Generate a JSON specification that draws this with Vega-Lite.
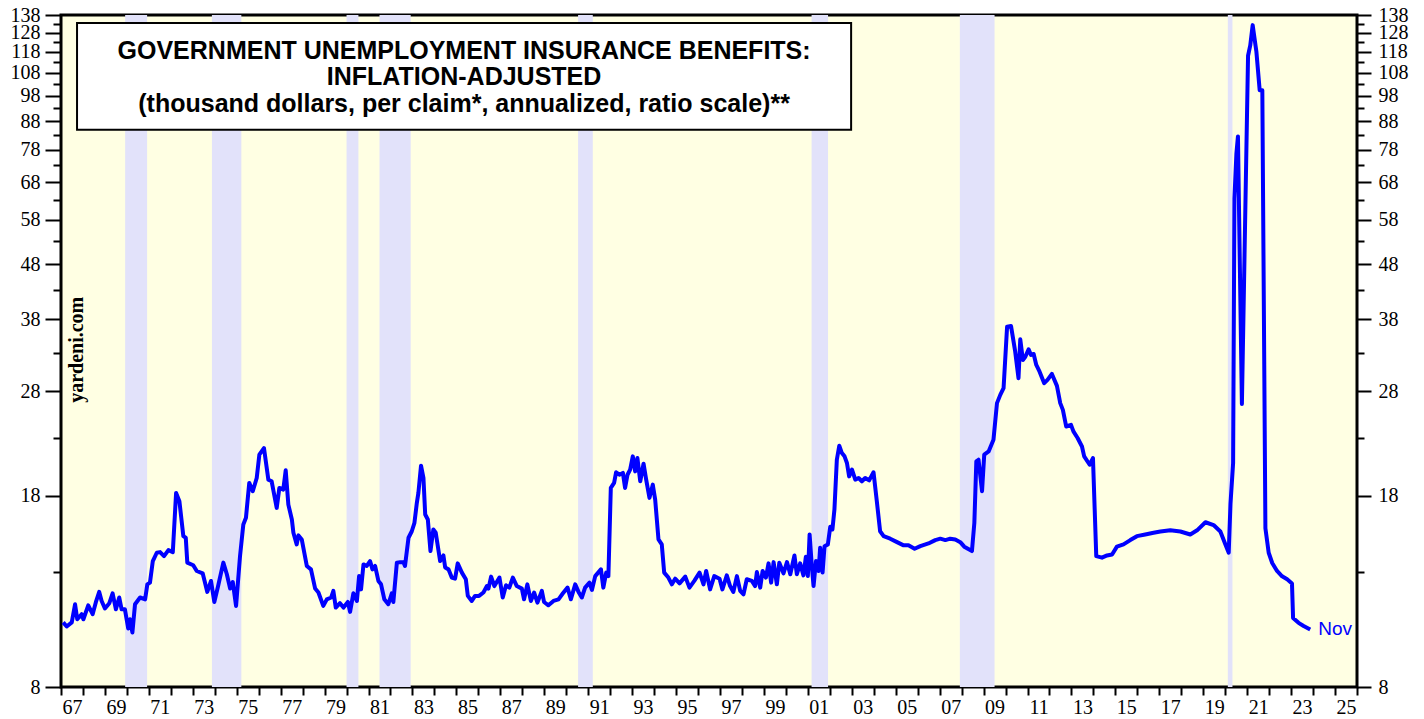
{
  "$schema": "https://vega.github.io/schema/vega-lite/v6.json",
  "width": 1296,
  "height": 672,
  "autosize": "none",
  "padding": {"left": 61, "top": 15, "right": 67, "bottom": 32},
  "background": "white",
  "config": {
    "view": {"fill": "#FFFFE3", "stroke": "black", "strokeWidth": 3},
    "axis": {"domain": false, "grid": false, "tickColor": "black", "tickWidth": 2, "labelFont": "Liberation Serif", "labelFontSize": 20, "labelColor": "black"}
  },
  "datasets": {
    "rec": [
      {"start": 1969.92, "end": 1970.92}, {"start": 1973.87, "end": 1975.21}, {"start": 1980.0, "end": 1980.54},
      {"start": 1981.5, "end": 1982.92}, {"start": 1990.54, "end": 1991.21}, {"start": 2001.17, "end": 2001.92},
      {"start": 2007.92, "end": 2009.5}, {"start": 2020.12, "end": 2020.33}
    ],
    "ui": [
      {"t":1967.10,"v":10.52},{"t":1967.26,"v":10.34},{"t":1967.49,"v":10.52},{"t":1967.64,"v":11.36},{"t":1967.74,"v":10.66},{"t":1967.94,"v":10.89},{"t":1968.02,"v":10.66},{"t":1968.24,"v":11.31},{"t":1968.44,"v":10.89},{"t":1968.59,"v":11.47},{"t":1968.74,"v":11.97},{"t":1968.85,"v":11.52},{"t":1969.00,"v":11.16},{"t":1969.20,"v":11.41},{"t":1969.35,"v":11.90},{"t":1969.50,"v":11.12},{"t":1969.65,"v":11.69},{"t":1969.76,"v":11.12},{"t":1969.91,"v":11.12},{"t":1970.06,"v":10.25},{"t":1970.14,"v":10.66},{"t":1970.25,"v":10.08},{"t":1970.37,"v":11.36},{"t":1970.60,"v":11.69},{"t":1970.83,"v":11.60},{"t":1970.93,"v":12.36},{"t":1971.05,"v":12.45},{"t":1971.18,"v":13.64},{"t":1971.36,"v":14.13},{"t":1971.51,"v":14.17},{"t":1971.69,"v":13.93},{"t":1971.89,"v":14.29},{"t":1972.09,"v":14.17},{"t":1972.24,"v":18.21},{"t":1972.39,"v":17.58},{"t":1972.57,"v":15.16},{"t":1972.68,"v":15.06},{"t":1972.75,"v":13.55},{"t":1973.02,"v":13.40},{"t":1973.18,"v":13.08},{"t":1973.45,"v":12.95},{"t":1973.66,"v":11.97},{"t":1973.83,"v":12.54},{"t":1973.98,"v":11.47},{"t":1974.16,"v":12.31},{"t":1974.39,"v":13.55},{"t":1974.55,"v":12.90},{"t":1974.70,"v":12.14},{"t":1974.82,"v":12.48},{"t":1974.97,"v":11.28},{"t":1975.15,"v":13.93},{"t":1975.30,"v":15.93},{"t":1975.42,"v":16.39},{"t":1975.57,"v":19.00},{"t":1975.73,"v":18.34},{"t":1975.91,"v":19.40},{"t":1976.03,"v":21.41},{"t":1976.24,"v":22.02},{"t":1976.44,"v":19.26},{"t":1976.59,"v":19.13},{"t":1976.82,"v":17.09},{"t":1976.94,"v":18.60},{"t":1977.12,"v":18.47},{"t":1977.23,"v":20.04},{"t":1977.35,"v":17.33},{"t":1977.51,"v":16.27},{"t":1977.58,"v":15.38},{"t":1977.73,"v":14.64},{"t":1977.81,"v":15.21},{"t":1977.96,"v":14.95},{"t":1978.19,"v":13.36},{"t":1978.38,"v":13.17},{"t":1978.57,"v":12.14},{"t":1978.72,"v":11.94},{"t":1978.94,"v":11.28},{"t":1979.10,"v":11.60},{"t":1979.30,"v":11.69},{"t":1979.40,"v":12.02},{"t":1979.51,"v":11.20},{"t":1979.70,"v":11.41},{"t":1979.86,"v":11.20},{"t":1980.06,"v":11.47},{"t":1980.16,"v":11.00},{"t":1980.31,"v":11.90},{"t":1980.47,"v":11.52},{"t":1980.57,"v":12.80},{"t":1980.66,"v":12.10},{"t":1980.77,"v":13.45},{"t":1980.92,"v":13.36},{"t":1981.07,"v":13.64},{"t":1981.18,"v":13.17},{"t":1981.30,"v":13.36},{"t":1981.45,"v":12.54},{"t":1981.57,"v":12.36},{"t":1981.72,"v":11.60},{"t":1981.90,"v":11.36},{"t":1982.06,"v":11.90},{"t":1982.13,"v":11.47},{"t":1982.29,"v":13.55},{"t":1982.44,"v":13.58},{"t":1982.59,"v":13.58},{"t":1982.66,"v":13.36},{"t":1982.82,"v":15.06},{"t":1982.97,"v":15.48},{"t":1983.09,"v":16.04},{"t":1983.20,"v":17.46},{"t":1983.27,"v":18.21},{"t":1983.39,"v":20.44},{"t":1983.50,"v":19.40},{"t":1983.58,"v":16.62},{"t":1983.70,"v":16.27},{"t":1983.82,"v":14.23},{"t":1983.95,"v":15.60},{"t":1984.06,"v":15.38},{"t":1984.26,"v":13.64},{"t":1984.41,"v":13.97},{"t":1984.49,"v":13.27},{"t":1984.64,"v":13.17},{"t":1984.79,"v":12.72},{"t":1984.94,"v":12.66},{"t":1985.06,"v":13.51},{"t":1985.25,"v":12.99},{"t":1985.43,"v":12.63},{"t":1985.52,"v":11.77},{"t":1985.70,"v":11.52},{"t":1985.85,"v":11.77},{"t":1986.03,"v":11.77},{"t":1986.23,"v":11.94},{"t":1986.39,"v":12.27},{"t":1986.46,"v":12.14},{"t":1986.58,"v":12.77},{"t":1986.73,"v":12.27},{"t":1986.96,"v":12.72},{"t":1987.11,"v":11.69},{"t":1987.26,"v":12.31},{"t":1987.41,"v":12.19},{"t":1987.57,"v":12.72},{"t":1987.75,"v":12.27},{"t":1987.98,"v":12.14},{"t":1988.08,"v":11.60},{"t":1988.23,"v":12.36},{"t":1988.39,"v":11.52},{"t":1988.54,"v":11.94},{"t":1988.69,"v":11.44},{"t":1988.89,"v":12.02},{"t":1988.99,"v":11.47},{"t":1989.19,"v":11.31},{"t":1989.42,"v":11.52},{"t":1989.65,"v":11.60},{"t":1989.85,"v":11.90},{"t":1990.06,"v":12.19},{"t":1990.21,"v":11.60},{"t":1990.41,"v":12.36},{"t":1990.56,"v":11.97},{"t":1990.71,"v":11.69},{"t":1990.86,"v":12.19},{"t":1991.06,"v":12.45},{"t":1991.17,"v":12.07},{"t":1991.32,"v":12.80},{"t":1991.58,"v":13.17},{"t":1991.69,"v":12.19},{"t":1991.82,"v":12.99},{"t":1991.92,"v":12.80},{"t":1992.03,"v":18.60},{"t":1992.18,"v":19.00},{"t":1992.27,"v":19.87},{"t":1992.42,"v":19.67},{"t":1992.58,"v":19.82},{"t":1992.68,"v":18.60},{"t":1992.79,"v":19.67},{"t":1992.91,"v":20.10},{"t":1993.03,"v":21.26},{"t":1993.14,"v":19.95},{"t":1993.24,"v":21.11},{"t":1993.37,"v":19.13},{"t":1993.52,"v":20.61},{"t":1993.64,"v":19.26},{"t":1993.79,"v":17.83},{"t":1993.94,"v":18.86},{"t":1994.05,"v":17.70},{"t":1994.20,"v":14.95},{"t":1994.35,"v":14.64},{"t":1994.46,"v":12.99},{"t":1994.65,"v":12.72},{"t":1994.81,"v":12.36},{"t":1994.96,"v":12.66},{"t":1995.16,"v":12.41},{"t":1995.42,"v":12.77},{"t":1995.61,"v":12.19},{"t":1995.83,"v":12.54},{"t":1996.07,"v":12.99},{"t":1996.25,"v":12.36},{"t":1996.37,"v":13.08},{"t":1996.55,"v":12.10},{"t":1996.74,"v":12.80},{"t":1996.98,"v":12.66},{"t":1997.11,"v":12.10},{"t":1997.31,"v":12.84},{"t":1997.46,"v":12.27},{"t":1997.61,"v":11.97},{"t":1997.77,"v":12.80},{"t":1997.92,"v":12.02},{"t":1998.07,"v":11.85},{"t":1998.22,"v":12.63},{"t":1998.45,"v":12.54},{"t":1998.60,"v":12.27},{"t":1998.68,"v":13.02},{"t":1998.83,"v":12.19},{"t":1998.94,"v":13.08},{"t":1999.09,"v":12.72},{"t":1999.21,"v":13.51},{"t":1999.33,"v":12.45},{"t":1999.44,"v":13.58},{"t":1999.59,"v":12.36},{"t":1999.70,"v":13.55},{"t":1999.89,"v":12.95},{"t":2000.05,"v":13.58},{"t":2000.20,"v":12.90},{"t":2000.39,"v":13.97},{"t":2000.50,"v":12.90},{"t":2000.65,"v":13.51},{"t":2000.80,"v":12.84},{"t":2000.91,"v":13.90},{"t":2001.00,"v":12.80},{"t":2001.08,"v":15.27},{"t":2001.18,"v":13.36},{"t":2001.26,"v":12.27},{"t":2001.37,"v":13.64},{"t":2001.49,"v":13.08},{"t":2001.56,"v":14.44},{"t":2001.67,"v":12.99},{"t":2001.76,"v":14.53},{"t":2001.91,"v":14.64},{"t":2002.02,"v":15.77},{"t":2002.12,"v":15.60},{"t":2002.21,"v":16.97},{"t":2002.32,"v":20.96},{"t":2002.43,"v":22.24},{"t":2002.55,"v":21.56},{"t":2002.67,"v":21.26},{"t":2002.78,"v":20.67},{"t":2002.88,"v":19.53},{"t":2003.01,"v":20.10},{"t":2003.16,"v":19.26},{"t":2003.31,"v":19.40},{"t":2003.46,"v":19.13},{"t":2003.61,"v":19.40},{"t":2003.79,"v":19.20},{"t":2003.99,"v":19.87},{"t":2004.14,"v":17.58},{"t":2004.29,"v":15.48},{"t":2004.45,"v":15.16},{"t":2004.75,"v":15.00},{"t":2005.06,"v":14.78},{"t":2005.36,"v":14.58},{"t":2005.58,"v":14.58},{"t":2005.86,"v":14.37},{"t":2006.12,"v":14.53},{"t":2006.49,"v":14.70},{"t":2006.80,"v":14.91},{"t":2007.03,"v":15.00},{"t":2007.26,"v":14.91},{"t":2007.48,"v":15.00},{"t":2007.71,"v":14.95},{"t":2007.94,"v":14.78},{"t":2008.12,"v":14.50},{"t":2008.47,"v":14.23},{"t":2008.58,"v":16.04},{"t":2008.67,"v":20.81},{"t":2008.77,"v":20.96},{"t":2008.93,"v":18.34},{"t":2009.03,"v":21.41},{"t":2009.23,"v":21.71},{"t":2009.45,"v":22.81},{"t":2009.61,"v":26.64},{"t":2009.76,"v":27.59},{"t":2009.91,"v":28.38},{"t":2010.07,"v":36.82},{"t":2010.25,"v":36.93},{"t":2010.44,"v":33.13},{"t":2010.59,"v":29.61},{"t":2010.67,"v":34.91},{"t":2010.79,"v":31.99},{"t":2010.90,"v":32.43},{"t":2011.05,"v":33.46},{"t":2011.16,"v":32.67},{"t":2011.28,"v":32.81},{"t":2011.40,"v":31.32},{"t":2011.55,"v":30.44},{"t":2011.76,"v":28.99},{"t":2011.91,"v":29.40},{"t":2012.11,"v":30.15},{"t":2012.34,"v":28.66},{"t":2012.49,"v":26.64},{"t":2012.61,"v":25.89},{"t":2012.76,"v":24.13},{"t":2012.98,"v":24.30},{"t":2013.09,"v":23.63},{"t":2013.28,"v":22.98},{"t":2013.48,"v":22.17},{"t":2013.58,"v":21.26},{"t":2013.83,"v":20.52},{"t":2013.98,"v":21.11},{"t":2014.13,"v":13.93},{"t":2014.39,"v":13.84},{"t":2014.62,"v":13.97},{"t":2014.85,"v":14.03},{"t":2015.07,"v":14.50},{"t":2015.37,"v":14.64},{"t":2015.68,"v":14.91},{"t":2015.98,"v":15.16},{"t":2016.36,"v":15.27},{"t":2016.74,"v":15.38},{"t":2017.05,"v":15.46},{"t":2017.50,"v":15.54},{"t":2017.96,"v":15.46},{"t":2018.41,"v":15.27},{"t":2018.72,"v":15.54},{"t":2019.10,"v":16.08},{"t":2019.47,"v":15.89},{"t":2019.78,"v":15.46},{"t":2020.01,"v":14.63},{"t":2020.16,"v":14.13},{"t":2020.24,"v":17.38},{"t":2020.36,"v":20.66},{"t":2020.42,"v":63.4},{"t":2020.51,"v":76.7},{"t":2020.58,"v":82.5},{"t":2020.76,"v":26.54},{"t":2021.04,"v":116.1},{"t":2021.14,"v":121.3},{"t":2021.25,"v":132.2},{"t":2021.42,"v":118.1},{"t":2021.57,"v":100.3},{"t":2021.69,"v":100.3},{"t":2021.83,"v":15.68},{"t":2021.98,"v":14.13},{"t":2022.14,"v":13.53},{"t":2022.36,"v":13.08},{"t":2022.59,"v":12.79},{"t":2022.82,"v":12.63},{"t":2023.04,"v":12.41},{"t":2023.09,"v":10.72},{"t":2023.34,"v":10.50},{"t":2023.57,"v":10.36},{"t":2023.87,"v":10.21}
    ],
    "last": [{"t": 2023.87, "v": 10.21, "label": "Nov"}]
  },
  "layer": [
    {
      "data": {"name": "rec"},
      "mark": {"type": "rect", "color": "#E2E2FA"},
      "encoding": {
        "x": {"field": "start", "type": "quantitative", "scale": {"domain": [1967, 2026], "nice": false, "zero": false}, "axis": null},
        "x2": {"field": "end"}
      }
    },
    {
      "data": {"name": "ui"},
      "mark": {"type": "line", "color": "#0000FF", "strokeWidth": 4, "strokeJoin": "round"},
      "encoding": {
        "x": {"field": "t", "type": "quantitative", "scale": {"domain": [1967, 2026], "nice": false, "zero": false},
          "axis": {"orient": "bottom", "title": null, "format": "d", "values": [1967,1968,1969,1970,1971,1972,1973,1974,1975,1976,1977,1978,1979,1980,1981,1982,1983,1984,1985,1986,1987,1988,1989,1990,1991,1992,1993,1994,1995,1996,1997,1998,1999,2000,2001,2002,2003,2004,2005,2006,2007,2008,2009,2010,2011,2012,2013,2014,2015,2016,2017,2018,2019,2020,2021,2022,2023,2024,2025,2026],
            "tickSize": 8, "labelPadding": 2, "labelOffset": 11, "labelOverlap": false, "labelFlush": false, "labelBound": false,
            "labelExpr": "(datum.value % 2 == 1 && datum.value < 2026) ? slice(datum.label, 2) : ''"}},
        "y": {"field": "v", "type": "quantitative", "scale": {"type": "log", "domain": [8, 138], "nice": false}, "axis": null}
      }
    },
    {
      "data": {"name": "last"},
      "mark": {"type": "text", "color": "#0000FF", "font": "Liberation Sans", "fontSize": 19, "align": "left", "baseline": "middle", "dx": 8},
      "encoding": {
        "x": {"field": "t", "type": "quantitative", "axis": null},
        "y": {"field": "v", "type": "quantitative", "axis": null},
        "text": {"field": "label"}
      }
    },
    {
      "data": {"values": [{}]},
      "mark": {"type": "rect", "fill": "white", "stroke": "black", "strokeWidth": 2},
      "encoding": {
        "x": {"datum": 1967.73, "type": "quantitative", "axis": null},
        "x2": {"datum": 2002.97},
        "y": {"datum": 133.4, "type": "quantitative", "axis": null},
        "y2": {"datum": 84.9}
      }
    },
    {
      "data": {"values": [{}]},
      "mark": {"type": "text", "text": ["GOVERNMENT UNEMPLOYMENT INSURANCE BENEFITS:", "INFLATION-ADJUSTED", "(thousand dollars, per claim*, annualized, ratio scale)**"],
        "font": "Liberation Sans", "fontWeight": "bold", "fontSize": 25, "lineHeight": 26.5, "align": "center", "baseline": "middle", "color": "black"},
      "encoding": {
        "x": {"datum": 1985.35, "type": "quantitative", "axis": null},
        "y": {"datum": 118.5, "type": "quantitative", "axis": null}
      }
    },
    {
      "data": {"values": [{}]},
      "mark": {"type": "text", "text": "yardeni.com", "font": "Liberation Serif", "fontWeight": "bold", "fontSize": 20, "angle": 270, "align": "center", "baseline": "middle", "color": "black"},
      "encoding": {
        "x": {"datum": 1967.72, "type": "quantitative", "axis": null},
        "y": {"datum": 33.4, "type": "quantitative", "axis": null}
      }
    },
    {
      "data": {"values": [{}]},
      "mark": {"type": "rule", "opacity": 0},
      "encoding": {
        "y": {"datum": 10, "type": "quantitative", "axis": {"orient": "left", "title": null, "values": [8,18,28,38,48,58,68,78,88,98,108,118,128,138], "tickSize": 16, "labelPadding": 5, "labelOverlap": false, "labelFlush": false, "labelBound": false, "labelExpr": "format(datum.value, 'd')"}}
      }
    },
    {
      "data": {"values": [{}]},
      "mark": {"type": "rule", "opacity": 0},
      "encoding": {
        "y": {"datum": 10, "type": "quantitative", "axis": {"orient": "left", "title": null, "values": [13,23,33,43,53,63,73,83,93,103,113,123,133], "tickSize": 8, "labels": false}}
      }
    },
    {
      "data": {"values": [{}]},
      "mark": {"type": "rule", "opacity": 0},
      "encoding": {
        "y": {"datum": 10, "type": "quantitative", "axis": {"orient": "right", "title": null, "values": [8,18,28,38,48,58,68,78,88,98,108,118,128,138], "tickSize": 14, "labelPadding": 7, "labelOverlap": false, "labelFlush": false, "labelBound": false, "labelExpr": "format(datum.value, 'd')"}}
      }
    },
    {
      "data": {"values": [{}]},
      "mark": {"type": "rule", "opacity": 0},
      "encoding": {
        "y": {"datum": 10, "type": "quantitative", "axis": {"orient": "right", "title": null, "values": [13,23,33,43,53,63,73,83,93,103,113,123,133], "tickSize": 7, "labels": false}}
      }
    }
  ],
  "resolve": {"axis": {"y": "independent", "x": "independent"}}
}
